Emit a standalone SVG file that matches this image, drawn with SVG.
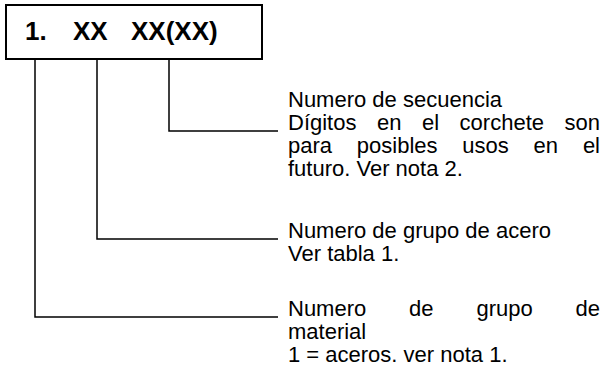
<svg xmlns="http://www.w3.org/2000/svg" width="603" height="368" viewBox="0 0 603 368">
<style>
.t{font-family:"Liberation Sans",Arial,sans-serif;font-size:22px;fill:#000}
.h{font-family:"Liberation Sans",Arial,sans-serif;font-size:26px;font-weight:bold;fill:#000}
.c{fill:none;stroke:#000;stroke-width:1.5}
</style>
<rect width="603" height="368" fill="#fff"/>
<g id="code">
<rect x="6" y="5" width="256" height="54" fill="#fff" stroke="#000" stroke-width="2"/>
<text class="h" x="25" y="40">1.</text>
<text class="h" x="73" y="40">XX</text>
<text class="h" x="131" y="40">XX(XX)</text>
</g>
<g id="connectors">
<polyline class="c" points="169,59 169,131 278,131"/>
<polyline class="c" points="97,59 97,239 278,239"/>
<polyline class="c" points="35,59 35,317 278,317"/>
</g>
<g id="note-sequence">
<text class="t" x="288" y="107">Numero de secuencia</text>
<text class="t" y="130"><tspan x="288">Dígitos</tspan><tspan x="377">en</tspan><tspan x="422">el</tspan><tspan x="459.6">corchete</tspan><tspan x="600" text-anchor="end">son</tspan></text>
<text class="t" y="153"><tspan x="288">para</tspan><tspan x="356.8">posibles</tspan><tspan x="462.3">usos</tspan><tspan x="533.6">en</tspan><tspan x="600" text-anchor="end">el</tspan></text>
<text class="t" x="288" y="176">futuro. Ver nota 2.</text>
</g>
<g id="note-steel">
<text class="t" x="288" y="238">Numero de grupo de acero</text>
<text class="t" x="288" y="261">Ver tabla 1.</text>
</g>
<g id="note-material">
<text class="t" y="316"><tspan x="288">Numero</tspan><tspan x="409.1">de</tspan><tspan x="476.4">grupo</tspan><tspan x="600" text-anchor="end">de</tspan></text>
<text class="t" x="288" y="339">material</text>
<text class="t" x="288" y="362">1 = aceros. ver nota 1.</text>
</g>
</svg>
